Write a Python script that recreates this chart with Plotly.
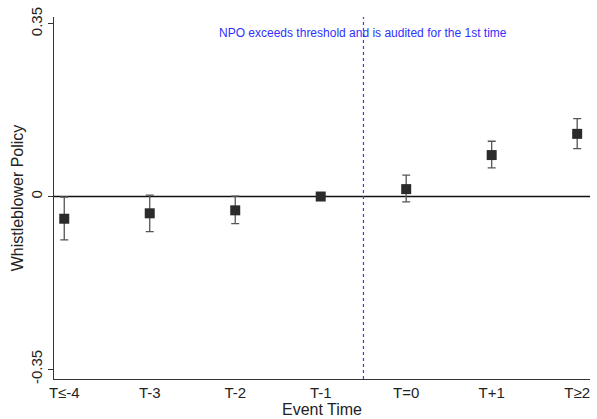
import plotly.graph_objects as go

# Event-study coefficients with 95% confidence bounds
event_labels = ["T≤-4", "T-3", "T-2", "T-1", "T=0", "T+1", "T≥2"]
event_pos = [-4, -3, -2, -1, 0, 1, 2]
coef = [-0.045, -0.034, -0.028, 0.0, 0.015, 0.084, 0.127]
ci_low = [-0.088, -0.071, -0.055, 0.0, -0.011, 0.058, 0.097]
ci_high = [-0.001, 0.003, 0.001, 0.0, 0.0435, 0.112, 0.158]

y_ticks = [-0.35, 0, 0.35]
y_tick_text = ["-0.35", "0", "0.35"]

font_family = "Liberation Sans, Arial, sans-serif"

ci_idx = [i for i in range(len(event_pos)) if ci_high[i] != ci_low[i]]

fig = go.Figure()

# Zero reference line
fig.add_shape(type="line", xref="paper", yref="y", x0=0, x1=1, y0=0, y1=0,
              line=dict(color="#111111", width=1.5), layer="below")

# Treatment onset marker
fig.add_shape(type="line", xref="x", yref="paper", x0=-0.5, x1=-0.5, y0=0, y1=1,
              line=dict(color="#3a3aff", width=1.2, dash="3px,3px"), layer="below")

# Confidence intervals (capped)
fig.add_trace(go.Scatter(
    x=[event_pos[i] for i in ci_idx],
    y=[(ci_high[i] + ci_low[i]) / 2 for i in ci_idx],
    mode="markers",
    marker=dict(size=1, color="rgba(0,0,0,0)"),
    error_y=dict(type="data", symmetric=False,
                 array=[ci_high[i] - (ci_high[i] + ci_low[i]) / 2 for i in ci_idx],
                 arrayminus=[(ci_high[i] + ci_low[i]) / 2 - ci_low[i] for i in ci_idx],
                 color="#555555", thickness=1.3, width=4),
    hoverinfo="skip", showlegend=False,
))

# Point estimates
fig.add_trace(go.Scatter(
    x=event_pos, y=coef, mode="markers",
    marker=dict(symbol="square", size=10, color="#2b2b2b"),
    showlegend=False,
))

fig.add_annotation(
    x=-0.5, y=0.332, xref="x", yref="y",
    text="NPO exceeds threshold and is audited for the 1st time",
    showarrow=False, font=dict(family=font_family, size=12, color="#3030ff"),
)

fig.update_layout(
    width=597, height=419,
    margin=dict(l=54, r=7, t=10, b=38),
    plot_bgcolor="white", paper_bgcolor="white",
    font=dict(family=font_family, size=15, color="#222222"),
    showlegend=False,
)

fig.update_xaxes(
    range=[-4.12, 2.15],
    tickmode="array", tickvals=event_pos, ticktext=event_labels,
    showline=True, linecolor="#333333", linewidth=1.2,
    showgrid=False, zeroline=False, ticks="",
    tickfont=dict(size=15),
    title=dict(text="Event Time", font=dict(size=16), standoff=0),
)

fig.update_yaxes(
    range=[-0.3698, 0.3638],
    tickmode="array", tickvals=y_ticks, ticktext=y_tick_text,
    tickangle=-90,
    showline=True, linecolor="#333333", linewidth=1.2,
    showgrid=False, zeroline=False,
    ticks="outside", ticklen=5, tickcolor="#333333",
    tickfont=dict(size=15),
    title=dict(text="Whistleblower Policy", font=dict(size=16), standoff=0),
)

fig.write_html("out.html")
